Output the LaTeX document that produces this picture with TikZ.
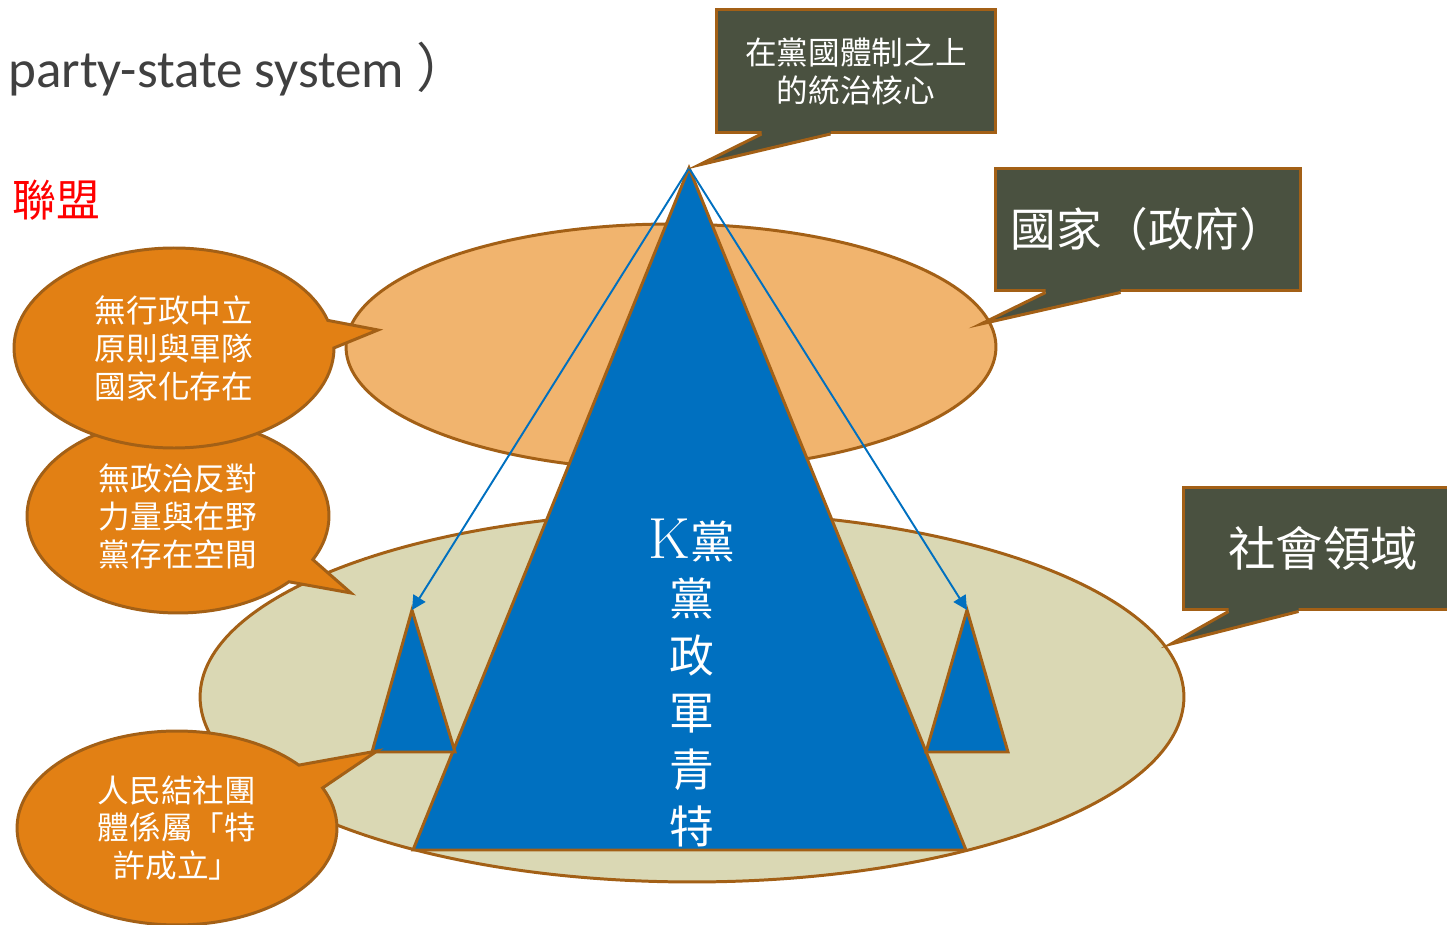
\documentclass[tikz,border=0pt]{standalone}
\usepackage{fontspec}
\usepackage{tikz}
\usetikzlibrary{arrows.meta,calc,positioning,shapes.geometric,shapes.callouts}
\newfontfamily\cjk{Noto Sans CJK TC}
\newfontfamily\carlito{Carlito}
\definecolor{rahmen}{RGB}{163,96,22}
\definecolor{kblau}{RGB}{0,112,192}
\definecolor{tafel}{RGB}{74,81,64}
\definecolor{staatorange}{RGB}{241,180,110}
\definecolor{sand}{RGB}{218,216,180}
\definecolor{blasenorange}{RGB}{226,128,20}
\definecolor{titelgrau}{RGB}{64,64,64}
\tikzset{
  rand/.style={draw=rahmen,line width=1.7pt},
  tafelbox/.style={rand,fill=tafel,text=white,align=center,inner sep=0pt,minimum width=5.6cm,minimum height=2.46cm},
  blase/.style={ellipse callout,rand,fill=blasenorange,text=white,align=center,inner sep=0pt,callout pointer arc=16,font=\cjk\fontsize{18}{21.6}\selectfont},
  pfeil/.style={kblau,line width=1.1pt,-{Triangle[length=8pt,width=8pt]}},
}

\begin{document}
\begin{tikzpicture}[x=0.02cm,y=-0.02cm]
\useasboundingbox (0,0) rectangle (1447,925);
%Titelzeilen
\node[anchor=base west,inner sep=0pt,text=titelgrau,font=\carlito\fontsize{30.2}{36}\selectfont] (titel) at (8,88) {party-state system {\cjk ）}};
\node[anchor=east,inner sep=0pt,text=red,font=\cjk\fontsize{25}{30}\selectfont] (buendnis) at (101,200) {聯盟};
%Staat und Gesellschaft
\node[ellipse,rand,fill=sand,minimum width=19.68cm,minimum height=7.4cm] (gesellschaft) at (692,697) {};
\node[ellipse,rand,fill=staatorange,minimum width=13cm,minimum height=4.92cm] (staat) at (671,347) {};
%K-Partei als Dreieck
\coordinate (spitze) at (689,168);
\coordinate (linksspitze) at (412,610);
\coordinate (rechtsspitze) at (967,610);
\draw[rand,fill=kblau] (spitze) -- (413,850) -- (966,850) -- cycle;
\draw[rand,fill=kblau] (linksspitze) -- (372,752) -- (455,752) -- cycle;
\draw[rand,fill=kblau] (rechtsspitze) -- (926,752) -- (1008,752) -- cycle;
\draw[pfeil] (spitze) -- (linksspitze);
\draw[pfeil] (spitze) -- (rechtsspitze);
\node[align=center,text=white,inner sep=0pt,font=\cjk\fontsize{25.5}{32.4}\selectfont] (kpartei) at (692,683) {{\rmfamily\fontsize{33}{32.4}\selectfont K}黨\\黨\\政\\軍\\青\\特};
%Sprechblasen links
\node[blase,minimum width=6.04cm,minimum height=3.88cm,callout absolute pointer={(351,593)}] (blase2) at (178,516) {無政治反對\\力量與在野\\黨存在空間};
\node[blase,minimum width=6.4cm,minimum height=4cm,callout absolute pointer={(378,330)}] (blase1) at (174,348) {無行政中立\\原則與軍隊\\國家化存在};
\node[blase,minimum width=6.4cm,minimum height=3.88cm,callout absolute pointer={(377,751)}] (blase3) at (177,828) {人民結社團\\體係屬「特\\許成立」};
%Tafeln rechts
\coordinate (kernpunkt) at (699,165);
\coordinate (staatpunkt) at (981,324);
\coordinate (gespunkt) at (1171,644);
\node[tafelbox,font=\cjk\fontsize{18}{21.6}\selectfont] (kernbox) at (856,71) {在黨國體制之上\\的統治核心};
\node[tafelbox,minimum width=6.12cm,font=\cjk\fontsize{26}{31}\selectfont] (staatbox) at (1148,229.5) {國家（政府）};
\node[tafelbox,font=\cjk\fontsize{27}{32}\selectfont] (gesellschaftbox) at (1323,548.5) {社會領域};
\foreach \kasten/\a/\b/\ziel in {kernbox/47/116/kernpunkt,staatbox/52/127/staatpunkt,gesellschaftbox/47/117/gespunkt}{
  \fill[tafel] ($(\kasten.south west)+(\a,-4)$) -- ($(\kasten.south west)+(\a,0)$) -- (\ziel) -- ($(\kasten.south west)+(\b,0)$) -- ($(\kasten.south west)+(\b,-4)$) -- cycle;
  \draw[rand] ($(\kasten.south west)+(\a,0)$) -- (\ziel) -- ($(\kasten.south west)+(\b,0)$);
}
\end{tikzpicture}
\end{document}
